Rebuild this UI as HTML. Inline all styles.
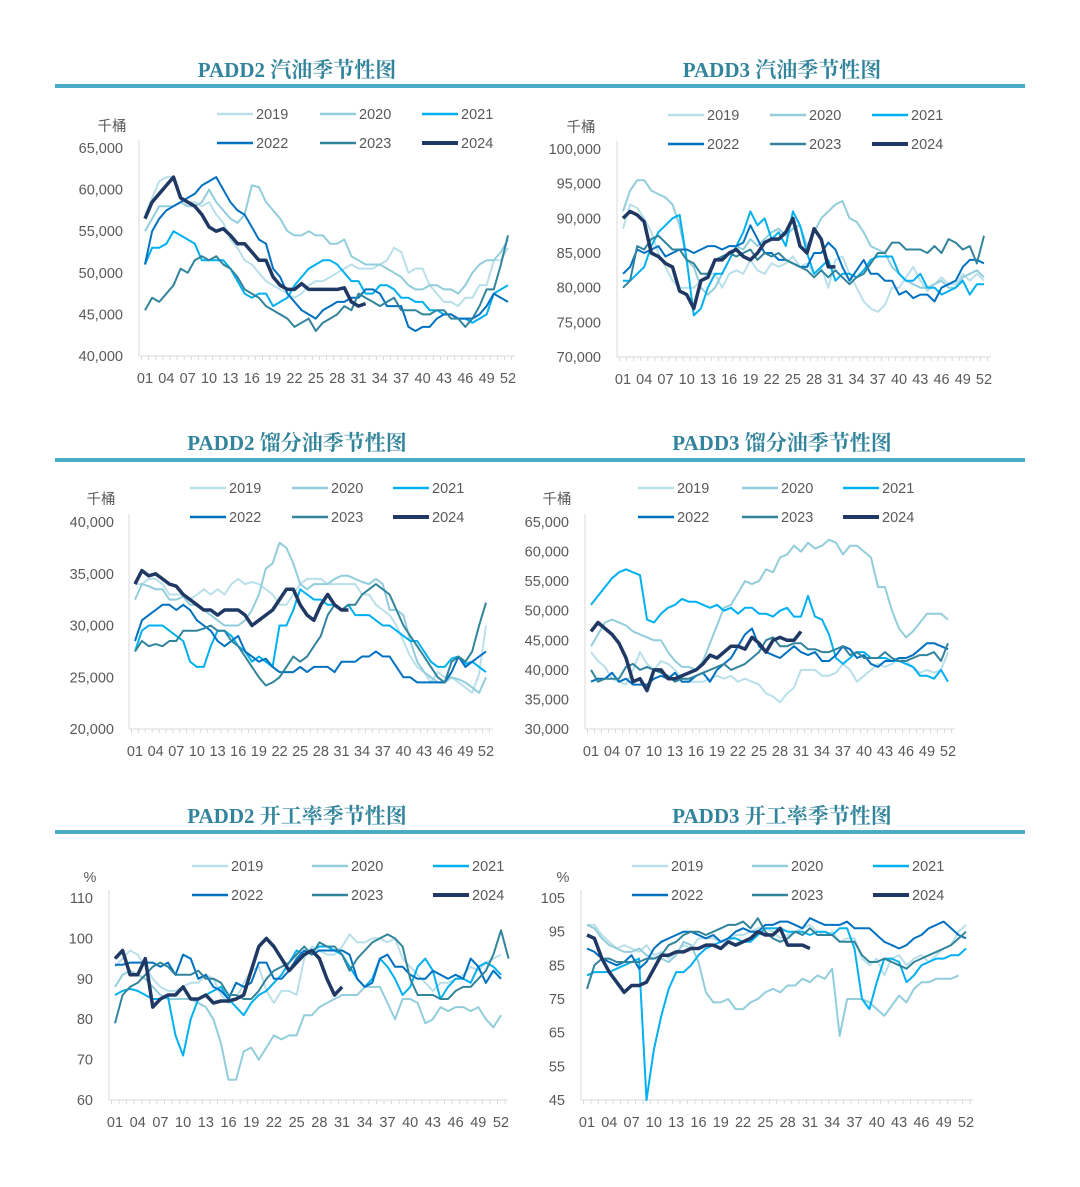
<!DOCTYPE html>
<html><head><meta charset="utf-8"><style>
body{margin:0;background:#fff}
svg{display:block;font-family:"Liberation Sans","Noto Sans CJK SC",sans-serif}
</style></head><body>
<svg id="c" width="1080" height="1187"></svg>
<script>
const years=["2019","2020","2021","2022","2023","2024"];
const colors=["#b9e0ea","#92cddc","#00b0f0","#0070c0","#31849b","#1f3864"];
const weekLabels=["01","04","07","10","13","16","19","22","25","28","31","34","37","40","43","46","49","52"];
const titles=["PADD2 汽油季节性图","PADD3 汽油季节性图","PADD2 馏分油季节性图","PADD3 馏分油季节性图","PADD2 开工率季节性图","PADD3 开工率季节性图"];
const p1_2019=[57,59,61,61.5,61.5,59,58.5,58.5,58,58.5,57,56,54,53,51.5,51,50,49,48.5,48,47.5,47,47.5,48.5,49,49,49.5,50,50.5,51,50.5,50.5,50.5,51,51.5,53,52.5,50,50.5,50.5,48.5,47.5,46.5,46.5,46,47,47,48.5,48.5,51.5,51.5,53];
const p1_2020=[55,56.5,58,58,58,58.5,58,58,58.5,60,58.5,57.5,56.5,56,57,60.5,60.3,58.5,57.5,56.5,55,54.5,54.5,55,54.5,54.5,53.5,53.5,54,52,51.5,51,51,51,50.5,50,49.5,48.5,48,48,48.5,48.5,48,48,47.5,48.5,50,51,51.5,51.5,52.5,54];
const p1_2021=[51,53,53,53.5,55,54.5,54,53.5,51.5,51.5,51.5,51.5,50.5,49,47.5,47,47.5,47.5,46,46.5,47,48.5,49.5,50.5,51,51.5,51.5,51,50,49,49,47.5,47.5,48.5,48.5,48,47,47,46.5,46.5,45.5,45.5,45,45,44.5,44.5,44,44.5,45,47.5,48,48.5];
const p1_2022=[51,55,56.5,57.5,58,58.5,59,59.5,60.5,61,61.5,60,58.5,57.5,57,55.5,54,53.5,50.5,49.5,47.5,46.5,45.5,45,44.5,45.5,46,46.5,46.5,47,47,48,48,47.5,46,46,46,43.5,43,43.5,43.5,44.5,45,45,44.5,44.5,44.5,45,46,47.5,47,46.5];
const p1_2023=[45.5,47,46.5,47.5,48.5,50.5,50,51.5,52,51.5,52,51,50.5,49.5,48,47.5,47,46,45.5,45,44.5,43.5,44,44.5,43,44,44.5,45,46,45.5,47.5,47,46.5,46,46.5,47,45.5,45.5,45.5,45,45,45.5,45.5,44.5,44.5,43.5,44.5,46,48,48,51,54.5];
const p1_2024=[56.5,58.5,59.5,60.5,61.5,59,58.5,58,57,55.5,55,55.3,54.5,53.5,53.5,52.5,51.5,51.5,49.5,48.5,48,48,48.7,48,48,48,48,48,48.2,46.5,46,46.3];
const p2_2019=[88.5,92,91.5,90,88,85,83,81,80,80,80,81,82,82,80,82,82.5,82,84,82.5,82,83.5,83,83.5,84.5,83,83.5,82,83,80,84,84.5,82,80,78,77,76.5,77.5,80,80,81.5,83,81,79.5,80.5,81.5,80.5,80.5,82,81,82,81];
const p2_2020=[91,94,95.5,95.5,94,93.5,93,92,89,84,83,80,79,80,82,84,86,85.5,87,86,87,88,88.5,87.5,88.5,89,86,88,90,91,92,92.5,90,89.5,88,86,85.5,85,83,82,81,80.5,80,80,80.5,81,80,80,81.5,82,82.5,81.5];
const p2_2021=[81,81,82,83,86,88,89,90,90.5,84,76,77,80,82,82,84,86,88,91,89,90,87,88,86,91,89,85,82,83,84,81,82,82,81.5,82.5,84,84.5,84.5,84.5,82,81,81,82,80,80,79,79.5,80,81,79,80.5,80.5];
const p2_2022=[82,83,85.5,85,85.5,86,84.5,85,85.5,85.5,85,85.5,86,86,85.5,86,86,86.5,89,87,85,85,84,84,83.5,83,83,85,85,86.5,85.5,83,81,82.5,84,82,82,81,81,79,79.5,78.5,79,79,78,80,80.5,81,83,84,84,83.5];
const p2_2023=[80,81,86,85.5,87,87.5,86.5,85.5,85.5,84,83.5,82,82,84,84.5,85,84.5,85,85.5,84,85,84.5,85,84,83.5,83,82.5,81.5,82.5,81.5,82.5,81.5,80.5,81.5,82,83.5,85,85,86.5,86.5,85.5,85.5,85.5,85,86,85,87,86.5,85.5,86,83.5,87.5];
const p2_2024=[90,91,90.5,89.5,85,84.5,83.5,83,79.5,79,77,81,81.5,84,84,85,85.5,84.5,84,85,86.5,87,87,88,90,86,85,88.5,87,83,83];
const p3_2019=[34,34,34.5,34.5,34,33,33,33,32.5,33,33.5,33,33.5,33,34,34.5,34,34.2,34,33.5,33,32,32,33,34,34.5,34.5,34.5,34,34,34,34,34,33,33,32,31.5,31,30,28.5,27,26,25.5,24.5,25.5,25,25,24.5,24,23.5,25.3,30];
const p3_2020=[32.5,34,33.8,33.5,33.5,32.5,32.5,32.8,32,32,31.5,31,30.5,30,30,30,30.5,31.5,33,35.5,36,38,37.5,36,34,33.5,34,34,34,34.5,34.8,34.8,34.5,34.2,34,34.5,34,31.5,31.5,31,28.5,26.5,25.5,25,24.5,24.5,25,24.8,24.5,24,23.5,25];
const p3_2021=[27.5,29.5,30,30,30,29.5,29,28.5,26.5,26,26,28,29.5,29.5,29,28,27.5,26.5,27,26.5,26,30,30,31.5,33.5,33,32.5,32.5,32,32,31.5,32,31,31,31,30.5,30,30,29.5,29,28.5,28.5,27.5,26.5,26,26,26.8,27,26.3,26.5,26,25.5];
const p3_2022=[28.5,30.5,31,31.5,32,32,31.5,32,31.5,30.5,30,29.5,28.5,28,28.5,29,27.5,27,26.5,26.8,26,25.5,25.5,25.5,26,25.5,26,26,26,25.5,26.5,26.5,26.5,27,27,27.5,27,27,26,25,25,24.5,24.5,24.5,24.5,24.5,25.5,27,26,26.5,27,27.5];
const p3_2023=[27.5,28.5,28,28.2,28,28.5,28.5,29.5,29.5,29.5,29.7,30,29.5,29.5,28.5,28,27,26,25,24.2,24.5,25,26,27,26.5,27,28,29,31,32,31.5,32,32,33,33.5,34,33.5,33,31.5,30,29,28,27,26,25,24.5,26.5,27,26.5,27.5,30,32.2];
const p3_2024=[34,35.3,34.8,35,34.5,34,33.8,33,32.5,32,31.5,31.5,31,31.5,31.5,31.5,31,30,30.5,31,31.5,32.5,33.5,33.5,32,31,30.5,32,33,32,31.5,31.5];
const p4_2019=[43,41.5,40.5,38.5,38,37.5,40,43,41,40,41.5,41,40,38.5,38,38,38,38.5,39,38.5,39,38,38.5,38,37.5,36,35.5,34.5,36,37,40,40,40,39,39,39.5,41,40,38,39,40,41,40.5,41,42,41.5,40.5,39.5,40,39.5,40,43];
const p4_2020=[44,46,48,48.5,48,47.5,46.5,46,45.5,45,45,43,41.5,40.5,40.5,40,41.5,44.5,47.5,50.5,51,53,55,54.5,55,57,56.5,59,59.5,61,60,61.5,60.5,61,62,61.5,59.5,61,61,60,59,54,54,50,47,45.5,46.5,48,49.5,49.5,49.5,48.5];
const p4_2021=[51,52.5,54,55.5,56.5,57,56.5,56,48.5,48,49.5,50.5,51,52,51.5,51.5,51,50.5,51,50,50.5,49.5,50.5,50.5,49.5,49.5,49,50,50.5,49,49,52.5,49,48.5,46,42,41,42,43,43,42,42,42,41.5,41.5,41,40.5,39,39,38.5,40,38];
const p4_2022=[38,38.5,38.5,39.5,38,38.5,37.5,37.5,37.5,38.5,39,38.5,39.5,38,38,39,39.5,38,40,41,42,44,46,47,44,43,42.5,42,43,44,43,42.5,43,41.5,41.5,42.5,44,43.5,42,42.5,41,40.5,41.5,41.5,42,42,42.5,43.5,44.5,44.5,44,43.5];
const p4_2023=[40,38,38.5,38.5,38.5,40.5,41,40,40.5,40,39.5,39,38,38.5,38.5,39,39.5,40,40.5,41,40,40.5,41,42,43,45,45.5,44,44,44.5,44.5,43.5,43.5,43,43,43.5,44,42.5,43,42,42,42,43,42,41.5,41.5,42,42.5,42.5,43,41.5,44.5];
const p4_2024=[46.5,48,47,46,44.5,42,38,38.5,36.5,40,40,38.5,38.5,39,39.5,40,41,42.5,42,43,44,44,43.5,45.5,44.5,43,45,45.5,45,45,46.5];
const p5_2019=[93,95,97,96,93,90,88,87,87,88,89,89,91,90,86,84,85,89,92,93,87,84,87,87,86,95,98,97,96,96,98,101,99,99,100,100,99,100,95,93,91,89,87,89,89,90,91,93,92,94,95,96];
const p5_2020=[88,91,92,91,90,88,86,85,85,85,85,84,83,80,74,65,65,72,73,70,73,76,75,76,76,81,81,83,84,85,86,86,86,88,88,88,84,80,85,85,84,79,80,83,82,83,83,82,83,80,78,81];
const p5_2021=[86,87,87.5,87,86,85,85,85.5,76,71,80,85,86,87,88,85,83,81,84,86,87,89,91,94,97,96,97,98,98,97,96,93,90,88,90,95,93,90,86,88,93,95,92,85,88,90,90,89,93,94,93,91];
const p5_2022=[93.5,93.5,94,94,94,94,93,94,91,96,95,90,91,88,87,85,89,88,89,94,94,90,90,92,95,97,96,97,97,97,97,96,90,88,89,95,96,93,93,91,90,90,92,91,90,91,90,95,93,89,92,90];
const p5_2023=[79,86,88,89,91,93,94,93,91,91,91,92,90,90,89,86,86,85,85,87,90,92,93,94,96,98,96,99,98,98,96,92,95,97,99,100,101,100,98,90,86,86,86,85,85,87,88,88,90,92,96,102,95];
const p5_2024=[95,97,91,91,95,83,85,86,86,88,85,85,86,84,84.5,84.5,85,86,92,98,100,98,95,92,94,96,97,95,90,86,88];
const p6_2019=[97,97,94,92,90,91,90,89,91,88,89,87,89,91,90,93,93,93,92,92,94,94,95,96,96,95,93,94,95,96,97,95,94,95,92,93,93,87,85,87,82,87,88,85,87,88,86,88,90,91,95,97];
const p6_2020=[97,96,93,91,90,89,89,90,88,87,87,86,88,92,91,86,77,74,74,75,72,72,74,75,77,78,77,79,79,81,80,82,81,84,64,75,75,75,74,72,70,73,76,74,78,80,80,81,81,81,82];
const p6_2021=[82,83,83,83,84,85,86,87,45,60,70,78,83,83,85,88,90,91,92,93,93,92,92,94,96,96,96,95,95,95,94,95,95,94,96,96,90,75,72,80,87,87,86,80,82,85,86,87,87,88,88,90];
const p6_2022=[90,89,87,86,85,86,88,84,86,90,92,93,94,95,95,94,93,94,92,93,95,96,95,95,97,97,98,98,97,96,99,98,97,97,97,98,96,96,96,94,92,91,90,91,93,94,96,97,98,96,94,93];
const p6_2023=[78,85,87,87,86,86,86,86,87,87,88,91,92,94,95,95,94,95,96,97,97,98,96,99,95,93,92,93,95,94,96,94,94,94,92,92,92,88,86,86,87,86,85,84,86,87,88,89,90,91,93,95];
const p6_2024=[94,93,87,83,80,77,79,79,80,84,88,88,89,89,90,90,91,91,90,92,91,92,93,95,94,94,96,91,91,91,90];

const panelSeries=[
 [p1_2019,p1_2020,p1_2021,p1_2022,p1_2023,p1_2024],
 [p2_2019,p2_2020,p2_2021,p2_2022,p2_2023,p2_2024],
 [p3_2019,p3_2020,p3_2021,p3_2022,p3_2023,p3_2024],
 [p4_2019,p4_2020,p4_2021,p4_2022,p4_2023,p4_2024],
 [p5_2019,p5_2020,p5_2021,p5_2022,p5_2023,p5_2024],
 [p6_2019,p6_2020,p6_2021,p6_2022,p6_2023,p6_2024]];
const yMins=[40,70,20,30,60,45];
const yMaxs=[65,100,40,65,110,105];
const ySteps=[5,5,5,5,10,10];
const yScaleK=[1000,1000,1000,1000,1,1];
const units=["千桶","千桶","千桶","千桶","%","%"];

const G=[
 {x0:145,x1:508,top:148,bot:356,lab:123,leg:[217,320,422],ly:114,ux:112,uy:126,tx:297,ty:70},
 {x0:623,x1:984,top:149,bot:357,lab:601,leg:[668,770,872],ly:115,ux:581,uy:127,tx:782,ty:70},
 {x0:135,x1:486,top:522,bot:729,lab:114,leg:[190,292,393],ly:488,ux:101,uy:499,tx:297,ty:443},
 {x0:591,x1:948,top:522,bot:729,lab:569,leg:[638,742,843],ly:488,ux:557,uy:499,tx:782,ty:443},
 {x0:115,x1:501,top:898,bot:1100,lab:93,leg:[192,312,433],ly:866,ux:90,uy:877,tx:297,ty:816},
 {x0:587,x1:966,top:898,bot:1100,lab:565,leg:[632,752,873],ly:866,ux:563,uy:877,tx:782,ty:816}];
const NS="http://www.w3.org/2000/svg";
const svg=document.getElementById('c');
function mk(tag,attrs,parent){const e=document.createElementNS(NS,tag);for(const k in attrs)e.setAttribute(k,attrs[k]);(parent||svg).appendChild(e);return e;}
[86,460,832].forEach((y,i)=>{
 const r=mk('rect',{x:55,y:y-2,width:970,height:4,fill:'#4bacc6'});
 
 
});
G.forEach((g,p)=>{
 const grp=mk('g',{});
 
 
 const t=mk('text',{x:g.tx,y:g.ty+7,'text-anchor':'middle','font-family':'"Liberation Serif","Noto Serif CJK SC",serif','font-weight':'bold','font-size':21,fill:'#31849b'},grp);
 t.textContent=titles[p];
 
 
 const xs=w=>g.x0+(w-1)*(g.x1-g.x0)/51;
 const ys=v=>g.bot-(v-yMins[p])*(g.bot-g.top)/(yMaxs[p]-yMins[p]);
 const ax=mk('line',{x1:g.x0-6,x2:g.x1+7,y1:g.bot,y2:g.bot,stroke:'#d9d9d9','stroke-width':1},grp);
 
 
 const ay=mk('line',{x1:g.x0-6,x2:g.x0-6,y1:g.top-8,y2:g.bot,stroke:'#d9d9d9','stroke-width':1},grp);
 
 
 for(let w=1;w<=53;w++){mk('line',{x1:xs(w)-3.5,x2:xs(w)-3.5,y1:g.bot,y2:g.bot+4,stroke:'#d9d9d9'},grp);}
 for(let v=yMins[p];v<=yMaxs[p]+1e-9;v+=ySteps[p]){
  const tk=mk('text',{x:g.lab,y:ys(v)+5,'text-anchor':'end','font-size':14.5,fill:'#595959'},grp);
  tk.textContent=(v*yScaleK[p]).toLocaleString('en-US');
  
  
 }
 weekLabels.forEach(l=>{
  const tk=mk('text',{x:xs(+l),y:g.bot+27,'text-anchor':'middle','font-size':14.5,fill:'#595959'},grp);
  tk.textContent=l;
  
  
 });
 const u=mk('text',{x:g.ux,y:g.uy+5,'text-anchor':'middle','font-size':14.5,fill:'#595959'},grp);
 u.textContent=units[p];
 
 
 panelSeries[p].forEach((arr,s)=>{
  const d=arr.map((v,i)=>(i?'L':'M')+xs(i+1).toFixed(1)+','+ys(v).toFixed(1)).join('');
  const pl=mk('path',{d:d,fill:'none',stroke:colors[s],'stroke-width':s==5?3.5:2,'stroke-linejoin':'round'},grp);
  
  
  const col=s%3,row=Math.floor(s/3);
  const lx=g.leg[col],ly=g.ly+row*29;
  const lg=mk('g',{},grp);
  
  
  mk('line',{x1:lx,x2:lx+36,y1:ly,y2:ly,stroke:colors[s],'stroke-width':s==5?4:2.5},lg);
  const lt=mk('text',{x:lx+39,y:ly+5,'font-size':14.5,fill:'#595959'},lg);
  lt.textContent=years[s];
 });
});
</script>
</body></html>
